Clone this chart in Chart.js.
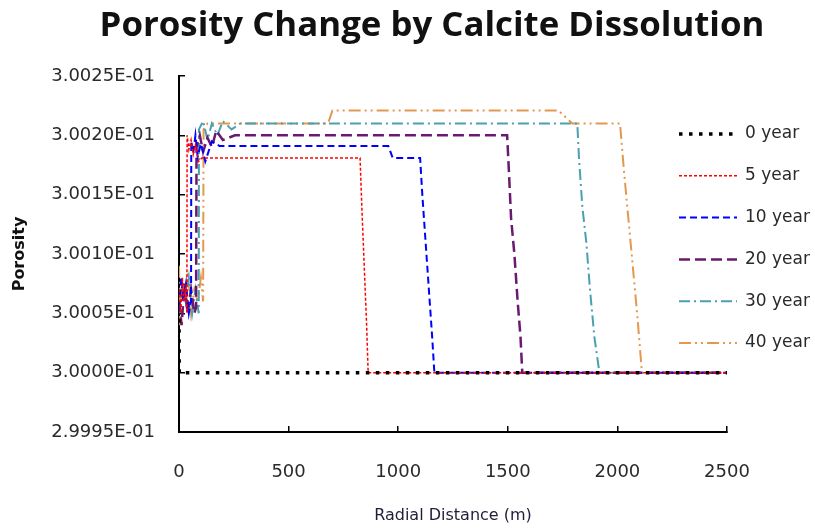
<!doctype html>
<html lang="en">
<head>
<meta charset="utf-8">
<title>Porosity Change by Calcite Dissolution</title>
<script src="https://cdn.jsdelivr.net/npm/chart.js@4.4.1/dist/chart.umd.min.js"></script>
<style>
  html, body { margin: 0; padding: 0; background: #fff; }
  #wrap { width: 815px; height: 529px; position: relative; }
</style>
</head>
<body>
<div id="wrap"><canvas id="myChart"></canvas></div>
<script>
// series names (legend)
var seriesNames = ['0 year', '5 year', '10 year', '20 year', '30 year', '40 year'];

// radial distance (m) and porosity
var dist0 = [0, 1, 2500];
var poro0 = [0.300045, 0.30000, 0.30000];

var dist5 = [0, 8, 15, 22, 30, 36, 37, 45, 55, 65, 75, 90, 105, 826, 834, 845, 856, 863, 2500];
var poro5 = [0.30007, 0.30005, 0.30008, 0.30006, 0.30007, 0.30005, 0.300200, 0.300188, 0.300196, 0.300184, 0.300192, 0.300178, 0.300181, 0.300181, 0.30014, 0.30009, 0.30004, 0.30000, 0.30000];

var dist10 = [0, 10, 20, 32, 45, 55, 56, 65, 75, 85, 100, 120, 150, 185, 955, 975, 1100, 1110, 1125, 1140, 1155, 1165, 2500];
var poro10 = [0.300055, 0.30008, 0.30006, 0.300075, 0.30005, 0.30006, 0.300195, 0.300185, 0.300200, 0.300182, 0.300193, 0.300178, 0.300195, 0.300191, 0.300191, 0.300181, 0.300181, 0.30015, 0.30011, 0.30007, 0.30003, 0.30000, 0.30000];

var dist20 = [0, 12, 25, 40, 55, 70, 78, 80, 95, 110, 130, 150, 170, 200, 255, 1497, 1505, 1515, 1530, 1545, 1558, 1566, 2500];
var poro20 = [0.30006, 0.30004, 0.300075, 0.30005, 0.30007, 0.30005, 0.300055, 0.300190, 0.300200, 0.300186, 0.300198, 0.300190, 0.300204, 0.300196, 0.300200, 0.300200, 0.30017, 0.30013, 0.30010, 0.30006, 0.30003, 0.30000, 0.30000];

var dist30 = [0, 15, 30, 45, 60, 75, 90, 91, 110, 130, 150, 175, 200, 240, 280, 320, 1817, 1825, 1840, 1858, 1875, 1895, 1918, 2500];
var poro30 = [0.30005, 0.300075, 0.30006, 0.30008, 0.30005, 0.30007, 0.30005, 0.300205, 0.300212, 0.300196, 0.300210, 0.300200, 0.300212, 0.300205, 0.300210, 0.300210, 0.300210, 0.30018, 0.30014, 0.30011, 0.30007, 0.30003, 0.30000, 0.30000];

var dist40 = [0, 5, 15, 25, 40, 55, 70, 85, 100, 110, 112, 130, 680, 700, 1730, 1795, 2012, 2030, 2050, 2070, 2090, 2112, 2500];
var poro40 = [0.30009, 0.30004, 0.30008, 0.30006, 0.300085, 0.30005, 0.30007, 0.30006, 0.30008, 0.30006, 0.300205, 0.300210, 0.300210, 0.300221, 0.300221, 0.300210, 0.300210, 0.30017, 0.30013, 0.30009, 0.30005, 0.30000, 0.30000];

// axis ticks
var xTicks = [0, 500, 1000, 1500, 2000, 2500];
var yTicks = [0.29995, 0.30000, 0.30005, 0.30010, 0.30015, 0.30020, 0.30025];

function toPoints(xs, ys) {
  var out = [];
  for (var i = 0; i < xs.length; i++) out.push({x: xs[i], y: ys[i]});
  return out;
}

// 3.0025E-01 style labels
function sciLabel(v) {
  var s = Number(v).toExponential(4).split('e');
  var e = parseInt(s[1], 10);
  var sign = e < 0 ? '-' : '+';
  var a = Math.abs(e);
  return s[0] + 'E' + sign + (a < 10 ? '0' + a : a);
}

var styles = [
  {color: '#000000', width: 3.5, dash: [3.5, 6.5]},
  {color: '#ff0000', width: 1.5, dash: [3, 2]},
  {color: '#0000ff', width: 2, dash: [7, 4]},
  {color: '#6a1a6e', width: 2.5, dash: [11, 5]},
  {color: '#4aa0b0', width: 2, dash: [11, 4, 2, 4]},
  {color: '#e3984e', width: 2, dash: [12, 4, 2, 4, 2, 4]}
];
var allX = [dist0, dist5, dist10, dist20, dist30, dist40];
var allY = [poro0, poro5, poro10, poro20, poro30, poro40];

var datasets = [];
for (var k = 0; k < seriesNames.length; k++) {
  datasets.push({
    label: seriesNames[k],
    data: toPoints(allX[k], allY[k]),
    borderColor: styles[k].color,
    backgroundColor: styles[k].color,
    borderWidth: styles[k].width,
    borderDash: styles[k].dash,
    pointRadius: 0,
    tension: 0,
    fill: false
  });
}

// title + legend drawn over the plot like the spreadsheet original
var sheetDecor = {
  id: 'sheetDecor',
  afterDraw: function(chart) {
    var ctx = chart.ctx;
    var area = chart.chartArea;
    ctx.save();

    var title = 'Porosity Change by Calcite Dissolution';
    ctx.font = 'bold 30px "Open Sans"';
    var w = ctx.measureText(title).width;
    var size = 30 * 665 / w;
    ctx.font = 'bold ' + size.toFixed(1) + 'px "Open Sans"';
    ctx.fillStyle = '#111111';
    ctx.textAlign = 'center';
    ctx.textBaseline = 'alphabetic';
    ctx.fillText(title, 432, 36);

    ctx.font = '17px "DejaVu Sans"';
    ctx.textAlign = 'left';
    ctx.textBaseline = 'middle';
    chart.data.datasets.forEach(function(ds, i) {
      var y = area.top + 58 + i * 41.8;
      ctx.strokeStyle = ds.borderColor;
      ctx.lineWidth = ds.borderWidth;
      ctx.setLineDash(ds.borderDash);
      ctx.beginPath();
      ctx.moveTo(area.right - 48, y);
      ctx.lineTo(area.right + 10, y);
      ctx.stroke();
      ctx.fillStyle = '#2a2a2a';
      ctx.fillText(ds.label, area.right + 18, y);
    });
    ctx.restore();
  }
};

var ctx = document.getElementById('myChart').getContext('2d');
var chart = new Chart(ctx, {
  type: 'line',
  data: {datasets: datasets},
  options: {
    responsive: true,
    maintainAspectRatio: false,
    animation: false,
    layout: {padding: {top: 76, right: 88, bottom: 0, left: 0}},
    plugins: {
      legend: {display: false},
      title: {display: false},
      tooltip: {enabled: false}
    },
    scales: {
      x: {
        type: 'linear',
        min: 0,
        max: 2500,
        afterFit: function(scale) { scale.height = 97; },
        afterBuildTicks: function(scale) {
          scale.ticks = xTicks.map(function(v) { return {value: v}; });
        },
        ticks: {
          padding: 36,
          color: '#2a2a2a',
          font: {family: 'DejaVu Sans', size: 18},
          maxRotation: 0,
          callback: function(v) { return String(v); }
        },
        grid: {drawOnChartArea: false, drawTicks: true, tickLength: -6, color: '#000', lineWidth: 1.5},
        border: {display: true, color: '#000', width: 2},
        title: {
          display: true,
          text: 'Radial Distance (m)',
          color: '#1e1e3a',
          font: {family: 'DejaVu Sans', size: 16},
          padding: {top: 0, bottom: 4}
        }
      },
      y: {
        type: 'linear',
        min: 0.29995,
        max: 0.30025,
        afterFit: function(scale) { scale.width = 179; },
        afterBuildTicks: function(scale) {
          scale.ticks = yTicks.map(function(v) { return {value: v}; });
        },
        ticks: {
          padding: 30,
          color: '#2a2a2a',
          font: {family: 'DejaVu Sans', size: 18},
          callback: function(v) { return sciLabel(v); }
        },
        grid: {drawOnChartArea: false, drawTicks: true, tickLength: -6, color: '#000', lineWidth: 1.5},
        border: {display: true, color: '#000', width: 2},
        title: {
          display: true,
          text: 'Porosity',
          color: '#111111',
          font: {family: 'DejaVu Sans', size: 16, weight: 'bold'},
          padding: {top: 10, bottom: 0}
        }
      }
    }
  },
  plugins: [sheetDecor]
});
</script>
</body>
</html>
